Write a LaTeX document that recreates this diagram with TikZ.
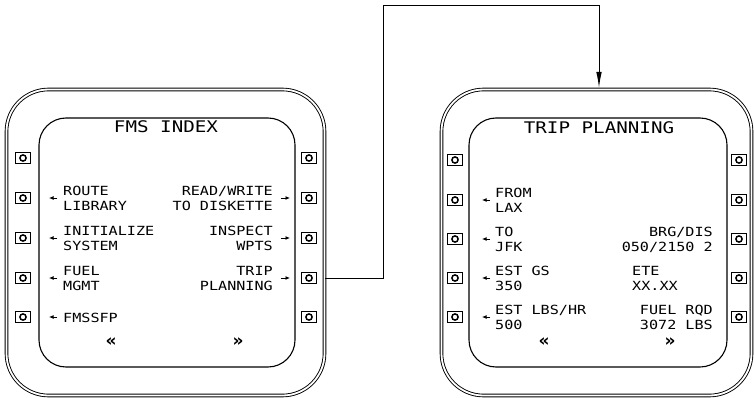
\documentclass[tikz,border=0pt]{standalone}
\usepackage{fontspec}
\newfontfamily\cdufont{DejaVu Sans Mono}[FakeStretch=1.2]
\newfontfamily\chevfont{DejaVu Sans}
\usetikzlibrary{arrows.meta}
\tikzset{
  bezel/.style={draw, double, double distance=1.8pt, line width=0.9pt, rounded corners=42pt, inner sep=0pt},
  screen/.style={draw, line width=1.1pt, rounded corners=27pt, inner sep=0pt},
  btn/.style={draw, line width=1.5pt, minimum width=15pt, minimum height=11pt, inner sep=0pt,
    path picture={\draw[line width=1.5pt] (path picture bounding box.center) circle[radius=3.1pt];}},
  lbl/.style={font=\cdufont\fontsize{12.6}{15}\selectfont, inner sep=0pt},
  ttl/.style={font=\cdufont\fontsize{16}{18}\selectfont, inner sep=0pt},
  chev/.style={font=\chevfont\bfseries\fontsize{17}{18}\selectfont, inner sep=0pt},
  sarr/.style={line width=0.9pt, -{Latex[length=4.5pt,width=4pt]}},
  conn/.style={line width=1pt, -{Latex[length=16pt,width=5.5pt]}}
}
\newcommand\twol[6]{%
  \node[lbl, anchor=base #2] (#1a) at (#3,{#4-2.5}) {#5};
  \node[lbl, anchor=base #2] (#1b) at (#3,{#4+12.5}) {#6};}
\begin{document}
\begin{tikzpicture}[x=1pt,y=-1pt]
\useasboundingbox (0,0) rectangle (754,398);
% bezels
\node[bezel, minimum width=318pt, minimum height=306pt] (Lbez) at (165.5,242.5) {};
\node[bezel, minimum width=310pt, minimum height=306pt] (Rbez) at (596.5,242.5) {};
% screens
\node[screen, minimum width=256pt, minimum height=249pt] (Lscr) at (167,242.5) {};
\node[screen, minimum width=258pt, minimum height=249pt] (Rscr) at (598,242.5) {};
% buttons left box
\foreach \i/\y in {1/158,2/198,3/238,4/278,5/317}{
  \node[btn] (Ll\i) at (23,\y) {};
  \node[btn] (Lr\i) at (309,\y) {};
}
% buttons right box
\foreach \i/\y in {1/160,2/200,3/239,4/278,5/317}{
  \node[btn] (Rl\i) at (455,\y) {};
  \node[btn] (Rr\i) at (739,\y) {};
}
% titles
\node[ttl] (Lttl) at (166,127) {FMS INDEX};
\node[ttl] (Rttl) at (599,128) {TRIP PLANNING};
% left box texts
\twol{la}{west}{63}{198}{ROUTE}{LIBRARY}
\twol{lb}{west}{63}{238}{INITIALIZE}{SYSTEM}
\twol{lc}{west}{63}{278}{FUEL}{MGMT}
\node[lbl, anchor=base west] (ld) at (63,322) {FMSSFP};
\twol{le}{east}{273}{198}{READ/WRITE}{TO DISKETTE}
\twol{lf}{east}{273}{238}{INSPECT}{WPTS}
\twol{lg}{east}{273}{278}{TRIP}{PLANNING}
\node[chev] (lch1) at (111,342) {«};
\node[chev] (lch2) at (238,342) {»};
\foreach \y in {198,238,278,317}{\draw[sarr] (57,\y) -- (49,\y);}
\foreach \y in {198,238,278}{\draw[sarr] (281,\y) -- (290,\y);}
% right box texts
\twol{ra}{west}{495}{200}{FROM}{LAX}
\twol{rb}{west}{495}{239}{TO}{JFK}
\twol{rc}{west}{495}{278}{EST GS}{350}
\twol{rd}{west}{495}{317}{EST LBS/HR}{500}
\twol{re}{east}{713}{239}{BRG/DIS}{050/2150 2}
\twol{rf}{west}{632}{278}{ETE}{XX.XX}
\twol{rg}{east}{713}{317}{FUEL RQD}{3072 LBS}
\node[chev] (rch1) at (544,342) {«};
\node[chev] (rch2) at (670,342) {»};
\foreach \y in {200,239,278,317}{\draw[sarr] (490,\y) -- (482,\y);}
% connector
\coordinate (c1) at (383,6);
\coordinate (rt) at (599,88);
\draw[conn] (Lbez.east |- Lr4) -| (c1) -| (rt);
\end{tikzpicture}
\end{document}
